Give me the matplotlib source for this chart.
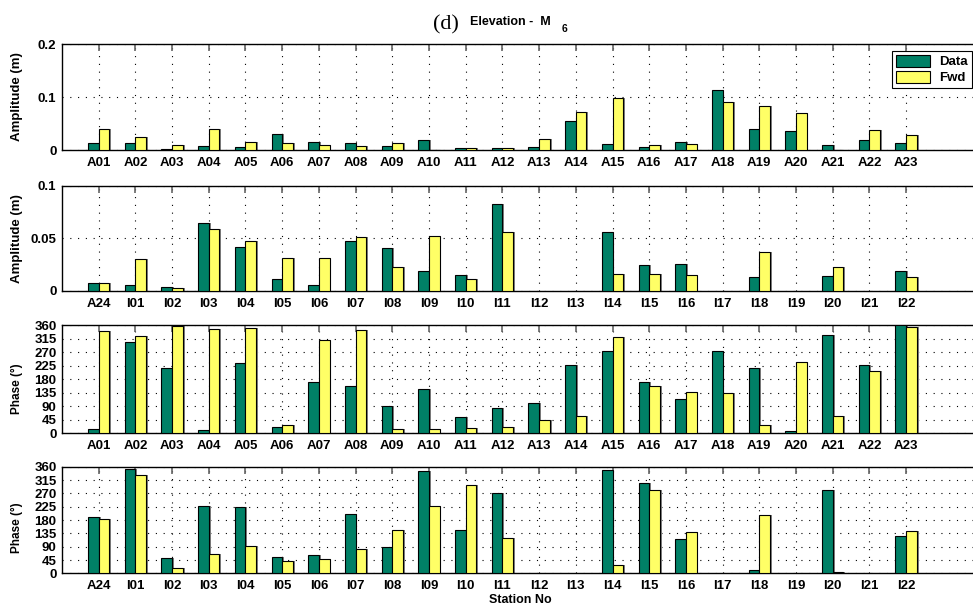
import numpy as np
import matplotlib.pyplot as plt

nan = np.nan

# Station names for the two rows of panels
stations_a = ['A%02d' % i for i in range(1, 24)]
stations_i = ['A24'] + ['I%02d' % i for i in range(1, 23)]

# Amplitude (m), A stations
amp_a_data = [0.013, 0.013, 0.001, 0.0075, 0.0057, 0.030, 0.016, 0.013, 0.0075, 0.019, 0.003, 0.003,
              0.0057, 0.0547, 0.0107, 0.0057, 0.0145, 0.1126, 0.039, 0.035, 0.0088, 0.018, 0.0126]
amp_a_fwd = [0.039, 0.0245, 0.009, 0.039, 0.016, 0.013, 0.0094, 0.0075, 0.013, 0.0005, 0.003, 0.003,
             0.021, 0.071, 0.0975, 0.0094, 0.0107, 0.090, 0.0824, 0.069, 0.0005, 0.037, 0.0277]

# Amplitude (m), A24 + I stations
amp_i_data = [0.0073, 0.0054, 0.0035, 0.065, 0.0415, 0.011, 0.0054, 0.047, 0.0405, 0.0187, 0.0149,
              0.0826, nan, nan, 0.0557, 0.0244, 0.0253, nan, 0.013, nan, 0.0139, nan, 0.0187]
amp_i_fwd = [0.0073, 0.030, 0.0025, 0.0585, 0.047, 0.031, 0.031, 0.051, 0.0225, 0.052, 0.011,
             0.0557, nan, nan, 0.0158, 0.0158, 0.0149, nan, 0.0367, nan, 0.0225, nan, 0.013]

# Phase (deg), A stations
pha_a_data = [13, 303, 217, 10, 233, 20, 170, 157, 90, 147, 53, 83,
              100, 227, 273, 170, 113, 273, 217, 7, 327, 227, 360]
pha_a_fwd = [340, 323, 358, 347, 350, 27, 310, 343, 13, 13, 17, 20,
             43, 57, 320, 157, 137, 133, 27, 237, 57, 207, 353]

# Phase (deg), A24 + I stations
pha_i_data = [189, 354, 51, 229, 223, 54, 61, 202, 88, 344, 148,
              270, nan, nan, 348, 304, 115, nan, 10, nan, 283, nan, 125]
pha_i_fwd = [182, 331, 17, 64, 91, 40, 47, 81, 145, 229, 300,
             121, nan, nan, 27, 283, 138, nan, 196, nan, 3, nan, 142]

GREEN = '#008066'
YELLOW = '#ffff66'
FONT = 'Liberation Sans'

fig = plt.figure(figsize=(9.73, 6.13), dpi=100)


def draw_panel(rect, labels, data, fwd, ylim, yticks, yticklabels, ylabel, ylabel_y, ylabel_size):
    ax = fig.add_axes(rect)
    x = np.arange(1, len(labels) + 1)
    w = 0.29
    # thin grey shadow on the right of each bar
    ax.bar(x - w / 2 + 0.05, data, w, color='#808080', linewidth=0, zorder=2)
    ax.bar(x + w / 2 + 0.05, fwd, w, color='#808080', linewidth=0, zorder=2)
    b1 = ax.bar(x - w / 2, data, w, color=GREEN, edgecolor='black', linewidth=0.8, zorder=3, label='Data')
    b2 = ax.bar(x + w / 2, fwd, w, color=YELLOW, edgecolor='black', linewidth=0.8, zorder=3, label='Fwd')
    ax.set_xlim(0, 25)
    ax.set_ylim(*ylim)
    ax.set_xticks(x)
    ax.set_xticklabels(labels, fontfamily=FONT, fontweight='bold', fontsize=9.5)
    ax.set_yticks(yticks)
    ax.set_yticklabels(yticklabels, fontfamily=FONT, fontweight='bold', fontsize=9.5)
    ax.tick_params(axis='x', which='both', top=True, bottom=False, direction='in',
                   length=5, width=1.2, color='#666666', pad=5)
    ax.tick_params(axis='y', length=0, pad=4)
    ax.grid(True, linestyle=(0, (1, 6)), color='black', linewidth=0.8, zorder=0)
    ax.set_axisbelow(True)
    ax.spines['right'].set_visible(False)
    for s in ('left', 'top', 'bottom'):
        ax.spines[s].set_linewidth(1.0)
    ax.set_ylabel(ylabel, fontfamily=FONT, fontweight='bold', fontsize=ylabel_size)
    ax.yaxis.set_label_coords(-0.042, ylabel_y)
    return ax, b1, b2


amp_ticks_a = [0, 0.1, 0.2]
amp_ticks_i = [0, 0.05, 0.1]
pha_ticks = list(range(0, 361, 45))

ax1, h1, h2 = draw_panel([0.0637, 0.7553, 0.943, 0.1729], stations_a, amp_a_data, amp_a_fwd,
                         (0, 0.2), amp_ticks_a, ['0', '0.1', '0.2'], 'Amplitude (m)', 0.5, 9.5)
ax2, _, _ = draw_panel([0.0637, 0.5253, 0.943, 0.1718], stations_i, amp_i_data, amp_i_fwd,
                       (0, 0.1), amp_ticks_i, ['0', '0.05', '0.1'], 'Amplitude (m)', 0.5, 9.5)
ax3, _, _ = draw_panel([0.0637, 0.2931, 0.943, 0.1762], stations_a, pha_a_data, pha_a_fwd,
                       (0, 360), pha_ticks, [str(t) for t in pha_ticks], 'Phase (°)', 0.41, 8.5)
ax4, _, _ = draw_panel([0.0637, 0.0647, 0.943, 0.1739], stations_i, pha_i_data, pha_i_fwd,
                       (0, 360), pha_ticks, [str(t) for t in pha_ticks], 'Phase (°)', 0.43, 8.5)
ax4.set_xlabel('Station No', fontfamily=FONT, fontweight='bold', fontsize=9, labelpad=1)

leg = fig.legend([h1, h2], ['Data', 'Fwd'], loc='upper right',
                 bbox_to_anchor=(972 / 973, 1 - 51 / 613), bbox_transform=fig.transFigure,
                 borderaxespad=0, fancybox=False, framealpha=1, edgecolor='black',
                 prop={'family': FONT, 'weight': 'bold', 'size': 9.5},
                 handlelength=2.6, handleheight=1.0, borderpad=0.3, labelspacing=0.2,
                 handletextpad=0.7)
leg.get_frame().set_linewidth(0.8)

# title: "(d) Elevation -  M6"
fig.text(433 / 973, 1 - 29 / 613, '(d)', fontfamily='Liberation Serif', fontsize=16, va='baseline')
fig.text(470 / 973, 1 - 25 / 613, 'Elevation -  M', fontfamily=FONT, fontweight='bold',
         fontsize=9, va='baseline')
fig.text(562 / 973, 1 - 32 / 613, '6', fontfamily=FONT, fontweight='bold', fontsize=7.5, va='baseline')

fig.savefig('out.png', dpi=100)
